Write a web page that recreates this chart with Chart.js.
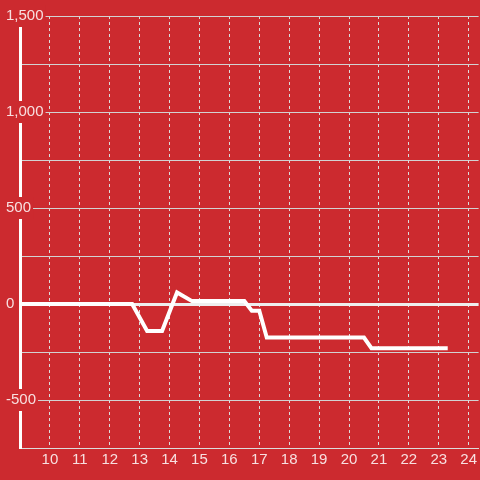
<!DOCTYPE html>
<html>
<head>
<meta charset="utf-8">
<script src="https://cdn.jsdelivr.net/npm/chart.js@4/dist/chart.umd.min.js"></script>
<style>
  html, body { margin: 0; padding: 0; background: #cc2a2f; }
  canvas { display: block; }
</style>
</head>
<body>
<canvas id="chart" width="480" height="480"></canvas>
<script>
// hour of day -> value
const hours = [9, 12.75, 13.25, 13.75, 14.25, 14.75, 16.5, 16.75, 17, 17.25, 20.5, 20.75, 23.3];
const values = [0, 0, -140, -140, 60, 15, 15, -35, -35, -175, -175, -230, -230];

const xTickLabels = [10, 11, 12, 13, 14, 15, 16, 17, 18, 19, 20, 21, 22, 23, 24];
const yTickLabels = [1500, 1000, 500, 0, -500];

const bg = "#cc2a2f";
const labelColor = "rgba(255, 255, 255, 0.85)";
const font = { family: "'Liberation Sans', Arial, sans-serif", size: 15 };

const config = {
  type: "line",
  data: {
    datasets: [
      {
        data: hours.map((h, i) => ({ x: h, y: values[i] })),
        borderColor: "#ffffff",
        borderWidth: 4,
        borderJoinStyle: "miter",
        pointRadius: 0,
        tension: 0,
        fill: false,
      },
    ],
  },
  options: {
    animation: false,
    responsive: false,
    layout: { padding: { left: 5, top: 16, right: -3, bottom: 8 } },
    plugins: {
      legend: { display: false },
      tooltip: { enabled: false },
    },
    scales: {
      x: {
        type: "linear",
        min: 9,
        max: 24.333,
        grid: { color: "#dcdcdc", lineWidth: 1, drawTicks: false },
        border: { color: "#dcdcdc", width: 1, dash: [3, 3] },
        ticks: {
          stepSize: 1,
          includeBounds: false,
          autoSkip: false,
          maxRotation: 0,
          padding: 3,
          color: labelColor,
          font: font,
          callback: (v) => (xTickLabels.includes(v) ? String(v) : ""),
        },
      },
      y: {
        min: -750,
        max: 1500,
        // labels sit over the axis line, so keep the axis box narrow
        afterFit: (scale) => {
          scale.width = 15;
        },
        grid: {
          drawTicks: false,
          color: (ctx) => (ctx.tick && ctx.tick.value === 0 ? "#eeeeee" : "#d2d2d2"),
          lineWidth: (ctx) => (ctx.tick && ctx.tick.value === 0 ? 3 : 1),
        },
        border: { color: "#ffffff", width: 3 },
        ticks: {
          stepSize: 250,
          mirror: true,
          padding: -14,
          color: labelColor,
          font: font,
          showLabelBackdrop: true,
          backdropColor: (ctx) => (yTickLabels.includes(ctx.tick.value) ? bg : "rgba(0,0,0,0)"),
          backdropPadding: 2,
          callback: (v) => (yTickLabels.includes(v) ? v.toLocaleString("en-US") : ""),
        },
      },
    },
  },
};

new Chart(document.getElementById("chart"), config);
</script>
</body>
</html>
